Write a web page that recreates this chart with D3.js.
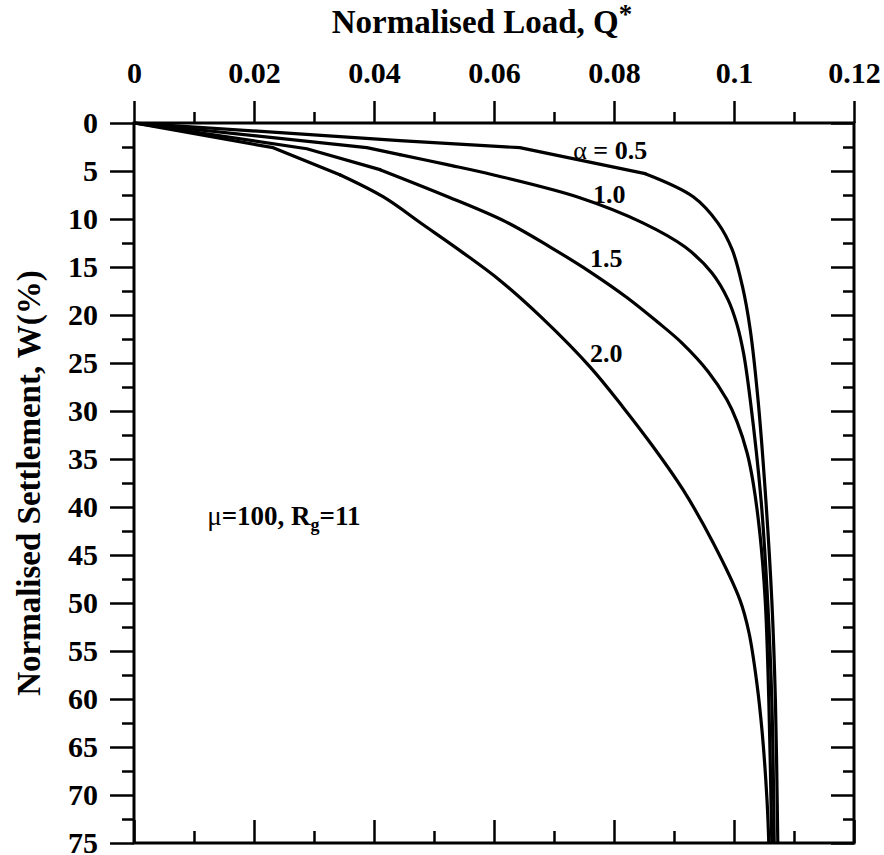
<!DOCTYPE html>
<html>
<head>
<meta charset="utf-8">
<script src="https://cdn.jsdelivr.net/npm/d3@7/dist/d3.min.js"></script>
<style>
  html, body { margin: 0; padding: 0; background: #fff; }
  svg { display: block; }
  text { font-family: "Liberation Serif", "Times New Roman", serif; font-weight: bold; fill: #000; }
</style>
</head>
<body>
<svg id="chart" width="884" height="855"></svg>
<script>
// Normalised load Q* (x) against normalised settlement W (%) for four α values
const xMajorTicks = [0, 0.02, 0.04, 0.06, 0.08, 0.1, 0.12];
const xTickLabels = ["0", "0.02", "0.04", "0.06", "0.08", "0.1", "0.12"];
const xMinorTicks = [0.01, 0.03, 0.05, 0.07, 0.09, 0.11];
const yMajorTicks = [0, 5, 10, 15, 20, 25, 30, 35, 40, 45, 50, 55, 60, 65, 70, 75];
const yMinorTicks = [2.5, 7.5, 12.5, 17.5, 22.5, 27.5, 32.5, 37.5, 42.5, 47.5, 52.5, 57.5, 62.5, 67.5, 72.5];

const alphaLabels = ["0.5", "1.0", "1.5", "2.0"];

// [Q*, W] pairs for each curve
const curveA05 = [[0,0],[0.0443,1.84],[0.0643,2.57],[0.0852,5.28],[0.0932,7.68],[0.0973,10.4],[0.0997,13.2],
  [0.1014,17.0],[0.1027,21.5],[0.1040,28.8],[0.1053,39.2],[0.1063,49.7],[0.1069,60.1],[0.1073,75]];
const curveA10 = [[0,0],[0.0388,2.57],[0.0443,3.3],[0.0522,4.34],[0.0598,5.39],[0.0743,7.78],
  [0.0848,10.4],[0.0918,12.9],[0.0963,15.6],[0.0990,18.4],[0.1005,21.0],[0.1016,24.0],[0.1027,28.8],
  [0.1045,39.2],[0.1056,49.7],[0.1063,60.1],[0.1067,75]];
const curveA15 = [[0,0],[0.0288,2.68],[0.0410,4.86],[0.0527,7.78],[0.0620,10.3],
  [0.0693,12.9],[0.0760,15.5],[0.0822,18.2],[0.0872,20.7],[0.0913,22.9],[0.0957,25.9],[0.0988,28.8],
  [0.1005,31.1],[0.1022,34.4],[0.1032,37.5],[0.1043,42.7],[0.1052,49.7],[0.1058,60.1],[0.1063,75]];
const curveA20 = [[0,0],[0.0232,2.57],[0.0343,5.39],[0.0415,7.68],[0.0482,10.6],[0.0548,13.5],[0.0610,16.4],
  [0.0680,20.3],[0.0760,25.4],[0.0815,29.6],[0.0865,33.7],[0.0915,38.2],[0.0965,43.7],
  [0.1010,49.7],[0.1025,53.1],[0.1038,58.3],[0.1047,63.5],[0.1055,70.5],[0.1058,75]];

// number of leading points joined by straight segments before the smooth tail
const headCounts = [4, 3, 3, 3];

// label anchor positions in data units [Q*, W]
const labelPosA05 = [0.0732, 3.7];
const labelPosA10 = [0.0765, 8.3];
const labelPosA15 = [0.0760, 15.0];
const labelPosA20 = [0.0760, 24.9];
const notePos = [0.0122, 41.9];

const svg = d3.select("#chart");
const plotLeft = 134, plotRight = 854, plotTop = 123, plotBottom = 843;

const x = d3.scaleLinear().domain([0, 0.12]).range([plotLeft, plotRight]);
const y = d3.scaleLinear().domain([0, 75]).range([plotTop, plotBottom]);

const tickFont = 30;

function styleAxis(g) {
  g.select(".domain").remove();
  g.selectAll(".tick line").attr("stroke", "#000").attr("stroke-width", 2.5);
  g.selectAll(".tick text").style("font-size", tickFont + "px").attr("fill", "#000");
}

// top axis: labelled, ticks outward
svg.append("g").attr("transform", `translate(0,${plotTop})`)
  .call(d3.axisTop(x).tickValues(xMajorTicks).tickSize(22).tickPadding(18)
    .tickFormat((d, i) => xTickLabels[i]))
  .call(styleAxis);
svg.append("g").attr("transform", `translate(0,${plotTop})`)
  .call(d3.axisTop(x).tickValues(xMinorTicks).tickSize(11).tickFormat(""))
  .call(styleAxis);

// bottom axis: ticks inward, no labels
svg.append("g").attr("transform", `translate(0,${plotBottom})`)
  .call(d3.axisTop(x).tickValues(xMajorTicks).tickSize(23).tickFormat(""))
  .call(styleAxis);
svg.append("g").attr("transform", `translate(0,${plotBottom})`)
  .call(d3.axisTop(x).tickValues(xMinorTicks).tickSize(12).tickFormat(""))
  .call(styleAxis);

// left axis: labelled, ticks outward
svg.append("g").attr("transform", `translate(${plotLeft},0)`)
  .call(d3.axisLeft(y).tickValues(yMajorTicks).tickSize(24).tickPadding(12).tickFormat(d3.format("d")))
  .call(styleAxis);
svg.append("g").attr("transform", `translate(${plotLeft},0)`)
  .call(d3.axisLeft(y).tickValues(yMinorTicks).tickSize(12).tickFormat(""))
  .call(styleAxis);

// right axis: ticks inward
svg.append("g").attr("transform", `translate(${plotRight},0)`)
  .call(d3.axisLeft(y).tickValues(yMajorTicks).tickSize(23).tickFormat(""))
  .call(styleAxis);
svg.append("g").attr("transform", `translate(${plotRight},0)`)
  .call(d3.axisLeft(y).tickValues(yMinorTicks).tickSize(11).tickFormat(""))
  .call(styleAxis);

// frame
svg.append("rect")
  .attr("x", plotLeft).attr("y", plotTop)
  .attr("width", plotRight - plotLeft).attr("height", plotBottom - plotTop)
  .attr("fill", "none").attr("stroke", "#000").attr("stroke-width", 3);

// curves: straight head segments, smooth tail
const lineStraight = d3.line().x(d => x(d[0])).y(d => y(d[1])).curve(d3.curveLinear);
const lineSmooth = d3.line().x(d => x(d[0])).y(d => y(d[1])).curve(d3.curveCatmullRom.alpha(0.5));
svg.append("clipPath").attr("id", "plotClip")
  .append("rect").attr("x", plotLeft).attr("y", plotTop - 2)
  .attr("width", plotRight - plotLeft).attr("height", plotBottom - plotTop + 2);

[curveA05, curveA10, curveA15, curveA20].forEach((c, i) => {
  const n = headCounts[i];
  const g = svg.append("g").attr("clip-path", "url(#plotClip)");
  [[c.slice(0, n), lineStraight], [c.slice(n - 1), lineSmooth]].forEach(([pts, gen]) => {
    g.append("path")
      .datum(pts)
      .attr("d", gen)
      .attr("fill", "none")
      .attr("stroke", "#000")
      .attr("stroke-width", 3.2)
      .attr("stroke-linejoin", "round")
      .attr("stroke-linecap", "round");
  });
});

// curve labels
const lab05 = svg.append("text")
  .attr("x", x(labelPosA05[0])).attr("y", y(labelPosA05[1]))
  .style("font-size", "26px");
lab05.append("tspan").style("font-weight", "normal").text("α");
lab05.append("tspan").text(" = " + alphaLabels[0]);

[[labelPosA10, alphaLabels[1]], [labelPosA15, alphaLabels[2]], [labelPosA20, alphaLabels[3]]].forEach(([p, t]) => {
  svg.append("text")
    .attr("x", x(p[0])).attr("y", y(p[1]))
    .style("font-size", "26px")
    .text(t);
});

// parameter note
const note = svg.append("text")
  .attr("x", x(notePos[0])).attr("y", y(notePos[1]))
  .style("font-size", "27px");
note.append("tspan").style("font-weight", "normal").text("μ");
note.append("tspan").text("=100, R");
note.append("tspan").attr("dy", 6).style("font-size", "18px").text("g");
note.append("tspan").attr("dy", -6).text("=11");

// axis titles
const title = svg.append("text")
  .attr("x", (plotLeft + plotRight) / 2 - 12).attr("y", 33)
  .attr("text-anchor", "middle")
  .style("font-size", "33px");
title.append("tspan").text("Normalised Load, Q");
title.append("tspan").attr("dy", -10).style("font-size", "27px").text("*");

svg.append("text")
  .attr("transform", `translate(40,${(plotTop + plotBottom) / 2}) rotate(-90)`)
  .attr("text-anchor", "middle")
  .style("font-size", "33px")
  .text("Normalised Settlement, W(%)");
</script>
</body>
</html>
